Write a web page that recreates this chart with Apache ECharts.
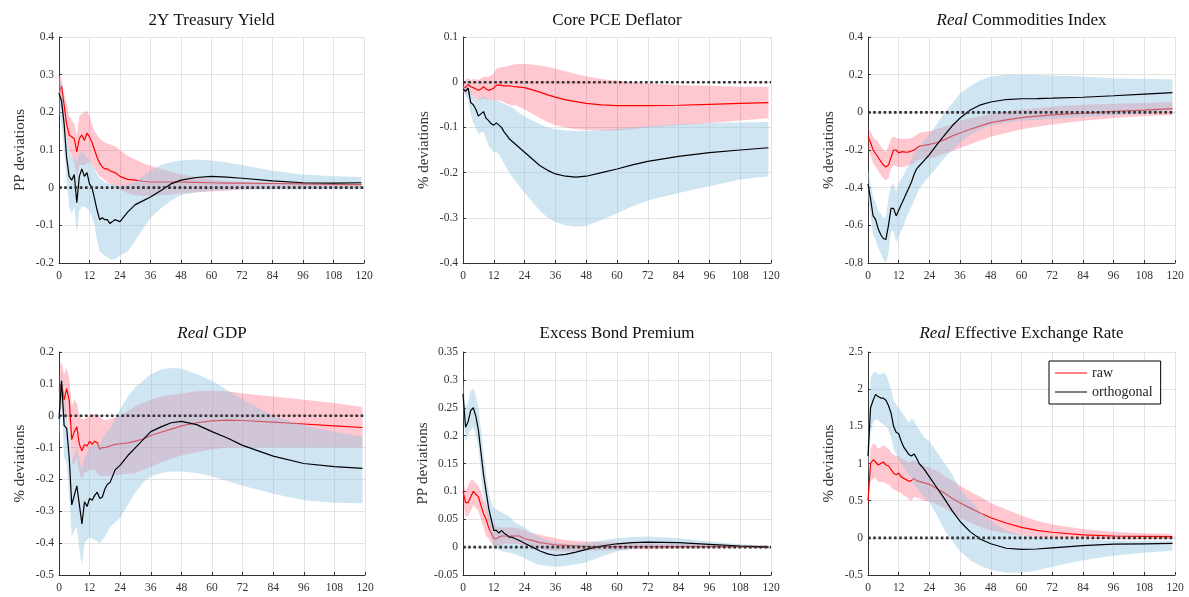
<!DOCTYPE html>
<html>
<head>
<meta charset="utf-8">
<script src="https://cdn.jsdelivr.net/npm/echarts@6/dist/echarts.min.js"></script>
<style>
  html, body { margin: 0; padding: 0; background: #fff; }
  #chart { width: 1189px; height: 597px; }
</style>
</head>
<body>
<div id="chart"></div>
<script>
// horizons (months) at which the responses were read
const H = [0,1,2,3,4,5,6,7,8,9,10,11,12,13,14,15,16,17,18,19,20,22,24,27,30,33,36,40,44,48,54,60,66,72,84,96,108,119];

// 2Y Treasury Yield
const yRaw = [0.25,0.27,0.22,0.17,0.14,0.135,0.13,0.095,0.13,0.14,0.125,0.145,0.135,0.12,0.1,0.08,0.065,0.055,0.05,0.05,0.045,0.04,0.03,0.022,0.02,0.017,0.015,0.015,0.015,0.015,0.014,0.013,0.012,0.012,0.011,0.01,0.009,0.008];
const yRawHi = [0.3,0.29,0.25,0.22,0.19,0.18,0.17,0.14,0.19,0.195,0.2,0.205,0.19,0.17,0.15,0.14,0.13,0.125,0.12,0.117,0.115,0.11,0.1,0.085,0.075,0.065,0.058,0.05,0.042,0.035,0.028,0.022,0.018,0.016,0.014,0.013,0.012,0.012];
const yRawLo = [0.22,0.21,0.18,0.13,0.1,0.085,0.07,0.03,0.06,0.06,0.06,0.065,0.07,0.06,0.05,0.04,0.03,0.025,0.02,0.015,0.01,0.003,-0.005,-0.015,-0.02,-0.022,-0.022,-0.02,-0.018,-0.015,-0.012,-0.01,-0.008,-0.005,-0.003,-0.002,-0.001,0];
const yOrth = [0.25,0.23,0.17,0.08,0.03,0.02,0.035,-0.04,0.03,0.05,0.03,0.04,0.01,0.0,-0.03,-0.06,-0.085,-0.08,-0.085,-0.085,-0.095,-0.085,-0.09,-0.065,-0.045,-0.035,-0.025,-0.008,0.01,0.02,0.027,0.03,0.028,0.025,0.018,0.013,0.012,0.013];
const yOrthHi = [0.3,0.27,0.2,0.13,0.1,0.08,0.08,0.07,0.09,0.095,0.09,0.08,0.07,0.06,0.05,0.035,0.025,0.02,0.015,0.012,0.01,0.008,0.005,0.008,0.015,0.03,0.045,0.06,0.068,0.072,0.075,0.072,0.067,0.06,0.045,0.035,0.03,0.028];
const yOrthLo = [0.2,0.17,0.1,0.02,-0.05,-0.07,-0.05,-0.12,-0.06,-0.05,-0.05,-0.055,-0.06,-0.08,-0.1,-0.14,-0.17,-0.175,-0.18,-0.185,-0.19,-0.19,-0.18,-0.17,-0.14,-0.11,-0.08,-0.055,-0.035,-0.02,-0.012,-0.008,-0.006,-0.005,-0.005,-0.005,-0.005,-0.005];

// Core PCE Deflator
const pRaw = [-0.01,-0.012,-0.005,-0.01,-0.012,-0.015,-0.018,-0.015,-0.01,-0.015,-0.018,-0.016,-0.013,-0.007,-0.006,-0.007,-0.008,-0.008,-0.008,-0.009,-0.01,-0.011,-0.012,-0.017,-0.022,-0.028,-0.033,-0.039,-0.043,-0.047,-0.05,-0.052,-0.052,-0.052,-0.051,-0.049,-0.047,-0.045];
const pRawHi = [-0.005,0.005,0.01,0.005,0.007,0.006,0.005,0.008,0.012,0.012,0.012,0.015,0.02,0.03,0.032,0.033,0.034,0.035,0.037,0.038,0.039,0.04,0.04,0.039,0.037,0.034,0.03,0.024,0.018,0.013,0.007,0.003,0.0,-0.003,-0.006,-0.008,-0.01,-0.01];
const pRawLo = [-0.02,-0.025,-0.025,-0.028,-0.03,-0.035,-0.04,-0.038,-0.035,-0.038,-0.04,-0.04,-0.04,-0.04,-0.04,-0.042,-0.045,-0.047,-0.05,-0.052,-0.05,-0.055,-0.06,-0.07,-0.08,-0.088,-0.095,-0.1,-0.104,-0.106,-0.107,-0.107,-0.104,-0.1,-0.095,-0.09,-0.085,-0.08];
const pOrth = [-0.015,-0.02,-0.013,-0.045,-0.05,-0.06,-0.075,-0.07,-0.065,-0.08,-0.085,-0.092,-0.095,-0.09,-0.095,-0.1,-0.11,-0.117,-0.125,-0.13,-0.135,-0.145,-0.155,-0.17,-0.185,-0.195,-0.203,-0.208,-0.21,-0.208,-0.2,-0.192,-0.183,-0.175,-0.164,-0.156,-0.15,-0.145];
const pOrthHi = [-0.01,-0.012,-0.005,-0.02,-0.03,-0.035,-0.04,-0.035,-0.03,-0.035,-0.04,-0.04,-0.04,-0.04,-0.042,-0.045,-0.048,-0.05,-0.053,-0.056,-0.06,-0.068,-0.075,-0.085,-0.093,-0.1,-0.104,-0.107,-0.108,-0.108,-0.106,-0.103,-0.1,-0.097,-0.093,-0.09,-0.089,-0.088];
const pOrthLo = [-0.02,-0.03,-0.04,-0.07,-0.09,-0.1,-0.115,-0.11,-0.11,-0.125,-0.14,-0.15,-0.155,-0.155,-0.16,-0.17,-0.18,-0.19,-0.2,-0.208,-0.215,-0.23,-0.245,-0.265,-0.285,-0.3,-0.31,-0.317,-0.32,-0.318,-0.305,-0.29,-0.275,-0.262,-0.245,-0.23,-0.215,-0.208];

// Real Commodities Index
const cRaw = [-0.13,-0.16,-0.2,-0.22,-0.24,-0.26,-0.28,-0.29,-0.28,-0.24,-0.2,-0.2,-0.215,-0.21,-0.21,-0.212,-0.21,-0.205,-0.2,-0.19,-0.18,-0.175,-0.17,-0.16,-0.145,-0.125,-0.11,-0.09,-0.072,-0.055,-0.04,-0.028,-0.02,-0.013,-0.005,0.005,0.012,0.02];
const cRawHi = [-0.08,-0.1,-0.13,-0.145,-0.16,-0.18,-0.2,-0.21,-0.18,-0.14,-0.13,-0.135,-0.14,-0.14,-0.14,-0.14,-0.14,-0.135,-0.13,-0.12,-0.11,-0.105,-0.1,-0.088,-0.075,-0.06,-0.045,-0.032,-0.02,-0.01,0.005,0.015,0.022,0.03,0.04,0.045,0.05,0.055];
const cRawLo = [-0.19,-0.23,-0.27,-0.29,-0.31,-0.33,-0.35,-0.36,-0.35,-0.3,-0.28,-0.285,-0.29,-0.29,-0.29,-0.285,-0.28,-0.275,-0.27,-0.26,-0.25,-0.248,-0.245,-0.235,-0.22,-0.205,-0.19,-0.17,-0.15,-0.13,-0.11,-0.09,-0.077,-0.065,-0.045,-0.03,-0.02,-0.015];
const cOrth = [-0.38,-0.46,-0.55,-0.57,-0.62,-0.65,-0.67,-0.675,-0.6,-0.51,-0.51,-0.55,-0.52,-0.49,-0.46,-0.43,-0.4,-0.37,-0.33,-0.3,-0.285,-0.255,-0.225,-0.17,-0.12,-0.07,-0.03,0.012,0.04,0.055,0.068,0.072,0.073,0.075,0.08,0.088,0.097,0.105];
const cOrthHi = [-0.3,-0.38,-0.45,-0.48,-0.52,-0.54,-0.56,-0.56,-0.45,-0.39,-0.38,-0.42,-0.38,-0.35,-0.33,-0.3,-0.28,-0.25,-0.22,-0.2,-0.18,-0.15,-0.12,-0.06,0.0,0.05,0.1,0.14,0.17,0.19,0.2,0.2,0.198,0.195,0.19,0.18,0.178,0.175];
const cOrthLo = [-0.45,-0.55,-0.65,-0.68,-0.72,-0.75,-0.78,-0.8,-0.75,-0.63,-0.63,-0.69,-0.66,-0.63,-0.6,-0.56,-0.53,-0.5,-0.47,-0.44,-0.41,-0.37,-0.34,-0.29,-0.24,-0.2,-0.16,-0.12,-0.09,-0.07,-0.055,-0.045,-0.04,-0.035,-0.025,-0.015,-0.005,0.01];

// Real GDP
const gRaw = [0.08,0.1,0.05,0.085,0.05,-0.075,-0.05,-0.035,-0.09,-0.11,-0.09,-0.095,-0.08,-0.09,-0.08,-0.085,-0.105,-0.1,-0.1,-0.098,-0.095,-0.09,-0.088,-0.085,-0.08,-0.073,-0.062,-0.052,-0.042,-0.032,-0.022,-0.016,-0.014,-0.015,-0.02,-0.026,-0.032,-0.037];
const gRawHi = [0.15,0.17,0.13,0.15,0.12,0.03,0.05,0.04,0.0,-0.01,-0.01,-0.005,0.0,0.003,0.005,0.003,0.0,-0.01,-0.015,-0.012,-0.01,-0.005,0.0,0.015,0.03,0.04,0.05,0.06,0.065,0.07,0.077,0.078,0.077,0.07,0.06,0.05,0.04,0.027];
const gRawLo = [0.0,0.03,-0.02,0.0,-0.03,-0.15,-0.15,-0.13,-0.18,-0.2,-0.18,-0.175,-0.17,-0.17,-0.17,-0.18,-0.19,-0.19,-0.19,-0.19,-0.19,-0.188,-0.185,-0.182,-0.18,-0.17,-0.16,-0.147,-0.135,-0.125,-0.115,-0.105,-0.1,-0.1,-0.1,-0.1,-0.1,-0.1];
const gOrth = [-0.01,0.11,-0.03,-0.04,-0.13,-0.28,-0.25,-0.22,-0.28,-0.34,-0.27,-0.285,-0.26,-0.265,-0.25,-0.24,-0.26,-0.255,-0.23,-0.215,-0.21,-0.17,-0.155,-0.125,-0.1,-0.075,-0.05,-0.035,-0.022,-0.018,-0.028,-0.05,-0.07,-0.093,-0.127,-0.15,-0.16,-0.165];
const gOrthHi = [0.05,0.15,0.05,0.0,-0.05,-0.15,-0.12,-0.1,-0.14,-0.17,-0.13,-0.115,-0.1,-0.095,-0.09,-0.09,-0.09,-0.075,-0.06,-0.05,-0.04,-0.01,0.02,0.06,0.09,0.11,0.13,0.145,0.15,0.148,0.13,0.11,0.08,0.05,0.0,-0.03,-0.05,-0.065];
const gOrthLo = [-0.1,0.05,-0.13,-0.15,-0.25,-0.38,-0.36,-0.35,-0.42,-0.47,-0.4,-0.39,-0.38,-0.385,-0.39,-0.395,-0.4,-0.39,-0.38,-0.365,-0.35,-0.335,-0.32,-0.28,-0.24,-0.21,-0.19,-0.18,-0.175,-0.175,-0.18,-0.19,-0.205,-0.22,-0.245,-0.265,-0.273,-0.275];

// Excess Bond Premium
const eRaw = [0.1,0.08,0.08,0.09,0.1,0.095,0.09,0.075,0.06,0.05,0.035,0.025,0.015,0.015,0.018,0.02,0.02,0.02,0.02,0.02,0.02,0.02,0.015,0.012,0.008,0.006,0.004,0.003,0.002,0.001,0.001,0.001,0.001,0.001,0.001,0.001,0.001,0.0005];
const eRawHi = [0.12,0.1,0.11,0.12,0.12,0.115,0.11,0.1,0.085,0.075,0.06,0.05,0.04,0.037,0.035,0.035,0.035,0.035,0.035,0.035,0.035,0.033,0.03,0.025,0.022,0.019,0.016,0.013,0.011,0.01,0.009,0.008,0.007,0.007,0.006,0.005,0.004,0.003];
const eRawLo = [0.08,0.055,0.055,0.065,0.075,0.07,0.065,0.05,0.035,0.02,0.015,0.008,0.0,0.001,0.003,0.004,0.005,0.006,0.006,0.006,0.006,0.005,0.003,0.0,-0.003,-0.005,-0.007,-0.008,-0.008,-0.007,-0.006,-0.005,-0.004,-0.004,-0.003,-0.002,-0.002,-0.002];
const eOrth = [0.275,0.215,0.225,0.245,0.25,0.235,0.21,0.17,0.13,0.1,0.07,0.05,0.03,0.03,0.025,0.03,0.025,0.022,0.018,0.018,0.016,0.012,0.007,0.0,-0.007,-0.012,-0.015,-0.013,-0.009,-0.004,0.002,0.006,0.008,0.009,0.008,0.005,0.002,0.0];
const eOrthHi = [0.3,0.25,0.26,0.28,0.285,0.27,0.25,0.21,0.17,0.13,0.1,0.08,0.07,0.068,0.065,0.063,0.06,0.058,0.055,0.05,0.045,0.04,0.035,0.025,0.018,0.012,0.008,0.006,0.006,0.008,0.012,0.016,0.018,0.019,0.016,0.01,0.005,0.002];
const eOrthLo = [0.25,0.19,0.2,0.21,0.215,0.2,0.18,0.13,0.09,0.07,0.04,0.02,0.0,-0.003,-0.005,-0.007,-0.008,-0.009,-0.01,-0.011,-0.012,-0.016,-0.02,-0.027,-0.032,-0.034,-0.035,-0.034,-0.031,-0.027,-0.017,-0.008,-0.003,-0.001,-0.001,-0.001,-0.001,-0.001];

// Real Effective Exchange Rate
const rRaw = [0.5,1.0,1.05,1.02,0.98,1.0,1.02,0.98,0.97,0.92,0.87,0.85,0.87,0.82,0.8,0.78,0.76,0.77,0.8,0.77,0.76,0.74,0.72,0.66,0.6,0.53,0.47,0.4,0.33,0.27,0.2,0.14,0.1,0.075,0.04,0.025,0.02,0.015];
const rRawHi = [0.6,1.2,1.27,1.25,1.2,1.22,1.25,1.22,1.2,1.15,1.12,1.1,1.1,1.07,1.05,1.03,1.02,1.03,1.05,1.02,1.0,0.97,0.95,0.9,0.83,0.77,0.7,0.62,0.55,0.47,0.38,0.3,0.23,0.18,0.12,0.08,0.06,0.05];
const rRawLo = [0.4,0.75,0.8,0.8,0.75,0.75,0.75,0.73,0.72,0.68,0.65,0.63,0.62,0.6,0.57,0.55,0.52,0.5,0.55,0.54,0.53,0.5,0.49,0.45,0.4,0.33,0.27,0.2,0.15,0.1,0.06,0.03,0.01,0.0,-0.01,-0.02,-0.02,-0.02];
const rOrth = [1.1,1.75,1.85,1.93,1.9,1.88,1.88,1.85,1.78,1.68,1.5,1.42,1.4,1.3,1.22,1.17,1.12,1.1,1.13,1.07,1.0,0.92,0.82,0.67,0.52,0.36,0.22,0.08,-0.02,-0.08,-0.14,-0.155,-0.15,-0.135,-0.105,-0.085,-0.08,-0.075];
const rOrthHi = [1.4,2.15,2.22,2.23,2.2,2.2,2.22,2.2,2.1,2.0,1.85,1.8,1.75,1.7,1.65,1.6,1.55,1.6,1.58,1.5,1.45,1.35,1.3,1.15,1.0,0.85,0.65,0.5,0.35,0.22,0.1,0.03,0.01,-0.005,-0.02,-0.04,-0.04,-0.04];
const rOrthLo = [0.8,1.4,1.55,1.6,1.58,1.55,1.52,1.5,1.45,1.35,1.2,1.12,1.05,1.0,0.95,0.9,0.85,0.8,0.72,0.67,0.62,0.55,0.48,0.3,0.1,-0.05,-0.18,-0.3,-0.38,-0.43,-0.47,-0.47,-0.44,-0.39,-0.3,-0.24,-0.2,-0.17];

const xTicks = { min: 0, max: 120, interval: 12 };

const panels = [
  { title: '2Y Treasury Yield', unit: 'PP deviations', yMin: -0.2, yMax: 0.4, yStep: 0.1,
    raw: yRaw, rawLo: yRawLo, rawHi: yRawHi, orth: yOrth, orthLo: yOrthLo, orthHi: yOrthHi },
  { title: 'Core PCE Deflator', unit: '% deviations', yMin: -0.4, yMax: 0.1, yStep: 0.1,
    raw: pRaw, rawLo: pRawLo, rawHi: pRawHi, orth: pOrth, orthLo: pOrthLo, orthHi: pOrthHi },
  { title: '{i|Real} Commodities Index', unit: '% deviations', yMin: -0.8, yMax: 0.4, yStep: 0.2,
    raw: cRaw, rawLo: cRawLo, rawHi: cRawHi, orth: cOrth, orthLo: cOrthLo, orthHi: cOrthHi },
  { title: '{i|Real} GDP', unit: '% deviations', yMin: -0.5, yMax: 0.2, yStep: 0.1,
    raw: gRaw, rawLo: gRawLo, rawHi: gRawHi, orth: gOrth, orthLo: gOrthLo, orthHi: gOrthHi },
  { title: 'Excess Bond Premium', unit: 'PP deviations', yMin: -0.05, yMax: 0.35, yStep: 0.05,
    raw: eRaw, rawLo: eRawLo, rawHi: eRawHi, orth: eOrth, orthLo: eOrthLo, orthHi: eOrthHi },
  { title: '{i|Real} Effective Exchange Rate', unit: '% deviations', yMin: -0.5, yMax: 2.5, yStep: 0.5,
    raw: rRaw, rawLo: rRawLo, rawHi: rRawHi, orth: rOrth, orthLo: rOrthLo, orthHi: rOrthHi },
];

// plot rectangles in pixels
const boxes = [
  { left: 59, top: 37, width: 305, height: 226 },
  { left: 463, top: 37, width: 308, height: 226 },
  { left: 868, top: 37, width: 307, height: 226 },
  { left: 59, top: 352, width: 306, height: 223 },
  { left: 463, top: 352, width: 308, height: 223 },
  { left: 868, top: 352, width: 307, height: 223 },
];

const SERIF = 'Liberation Serif, Times New Roman, serif';

function pairs(ys) {
  return H.map((x, i) => [x, ys[i]]);
}

function band(lo, hi, color, idx, z) {
  return {
    type: 'custom',
    xAxisIndex: idx,
    yAxisIndex: idx,
    silent: true,
    clip: true,
    z,
    data: H.map((x, i) => [x, lo[i], hi[i]]),
    encode: { x: 0, y: [1, 2] },
    renderItem(params, api) {
      if (params.dataIndex !== 0) return null;
      const pts = [];
      for (let i = 0; i < H.length; i++) pts.push(api.coord([H[i], hi[i]]));
      for (let i = H.length - 1; i >= 0; i--) pts.push(api.coord([H[i], lo[i]]));
      return {
        type: 'polygon',
        shape: { points: pts },
        style: { fill: color },
      };
    },
  };
}

const grid = [], xAxis = [], yAxis = [], title = [], series = [];

panels.forEach((p, idx) => {
  const b = boxes[idx];
  grid.push(Object.assign({ containLabel: false }, b));
  title.push({
    text: p.title,
    left: b.left + b.width / 2,
    top: idx < 3 ? b.top - 25 : b.top - 27,
    textAlign: 'center',
    padding: 0,
    textStyle: {
      fontFamily: SERIF, fontSize: 17, fontWeight: 'normal', color: '#111',
      rich: { i: { fontFamily: SERIF, fontSize: 17, fontStyle: 'italic', color: '#111' } },
    },
  });
  xAxis.push({
    type: 'value', gridIndex: idx, ...xTicks,
    axisLine: { onZero: false, lineStyle: { color: '#333', width: 1 } },
    axisTick: { show: true, inside: true, length: 3, lineStyle: { color: '#333' } },
    axisLabel: { fontFamily: SERIF, fontSize: 11.5, color: '#333', margin: 7 },
    splitLine: { show: true, lineStyle: { color: '#e2e2e2', width: 1 } },
  });
  yAxis.push({
    type: 'value', gridIndex: idx, min: p.yMin, max: p.yMax, interval: p.yStep,
    name: p.unit, nameLocation: 'middle', nameGap: 31,
    nameTextStyle: { fontFamily: SERIF, fontSize: 15, color: '#333' },
    axisLine: { show: true, onZero: false, lineStyle: { color: '#333', width: 1 } },
    axisTick: { show: true, inside: true, length: 3, lineStyle: { color: '#333' } },
    axisLabel: { fontFamily: SERIF, fontSize: 11.5, color: '#333', margin: 5 },
    splitLine: { show: true, lineStyle: { color: '#e2e2e2', width: 1 } },
  });

  // draw order: raw band, raw line, orthogonal band (covers raw line), orthogonal line, zero line
  series.push(band(p.rawLo, p.rawHi, 'rgba(255, 40, 70, 0.26)', idx, 1));
  series.push({
    name: 'raw', type: 'line', xAxisIndex: idx, yAxisIndex: idx, z: 2,
    data: pairs(p.raw), symbol: 'none', silent: true,
    lineStyle: { color: '#ff0000', width: 1.2 }, itemStyle: { color: '#ff0000' },
  });
  series.push(band(p.orthLo, p.orthHi, 'rgba(150, 198, 226, 0.45)', idx, 3));
  series.push({
    name: 'orthogonal', type: 'line', xAxisIndex: idx, yAxisIndex: idx, z: 4,
    data: pairs(p.orth), symbol: 'none', silent: true,
    lineStyle: { color: '#000', width: 1.2 }, itemStyle: { color: '#000' },
  });
  series.push({
    name: 'zero', type: 'line', xAxisIndex: idx, yAxisIndex: idx, z: 5,
    data: [[xTicks.min, 0], [xTicks.max, 0]], symbol: 'none', silent: true,
    lineStyle: { color: '#333', width: 2.6, type: [2.6, 2.6] },
  });
});

const chart = echarts.init(document.getElementById('chart'), null, { renderer: 'canvas' });
chart.setOption({
  backgroundColor: '#fff',
  animation: false,
  title,
  grid,
  xAxis,
  yAxis,
  legend: {
    data: [
      { name: 'raw', icon: 'path://M0,0H32V1H0Z' },
      { name: 'orthogonal', icon: 'path://M0,0H32V1H0Z' },
    ],
    orient: 'vertical',
    left: 1049,
    top: 361,
    padding: [5, 8, 5, 6],
    itemGap: 5,
    itemWidth: 32,
    itemHeight: 1.3,
    borderColor: '#000',
    borderWidth: 1,
    backgroundColor: '#fff',
    textStyle: { fontFamily: SERIF, fontSize: 14, color: '#222' },
  },
  series,
});
</script>
</body>
</html>
